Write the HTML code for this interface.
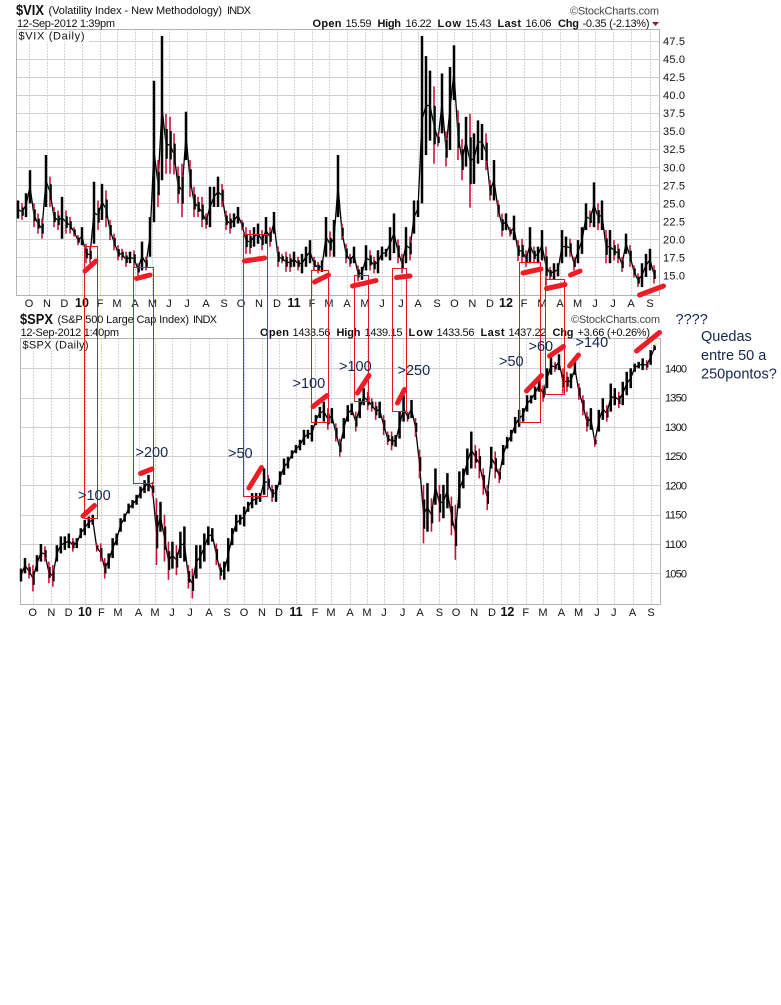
<!DOCTYPE html>
<html lang="en">
<head>
<meta charset="utf-8">
<title>VIX and SPX daily charts</title>
<style>
html,body{margin:0;padding:0;background:#fff;}
#stage{display:block;width:781px;height:1005px;}
text{font-family:"Liberation Sans",Arial,sans-serif;font-size:11px;fill:#111;}
.b{font-weight:bold;}
.note{font-size:14.5px;fill:#14264e;}
</style>
</head>
<body>
<svg id="stage" xmlns="http://www.w3.org/2000/svg" width="781" height="1005" viewBox="0 0 781 1005">
<rect x="0" y="0" width="781" height="1005" fill="#fff"/>

<g id="vix-plot"></g>
<g id="spx-plot"></g>

<g>
<text class="b" x="16" y="15" style="font-size:14.5px" textLength="28" lengthAdjust="spacingAndGlyphs">$VIX</text>
<text x="48.5" y="14" textLength="173.5">(Volatility Index - New Methodology)</text>
<text x="227" y="14" textLength="24">INDX</text>
<text x="17" y="27" textLength="98">12-Sep-2012 1:39pm</text>
<text class="b" x="312.5" y="27" textLength="29">Open</text>
<text x="345.5" y="27" textLength="26">15.59</text>
<text class="b" x="377.5" y="27" textLength="23.5">High</text>
<text x="405.5" y="27" textLength="26">16.22</text>
<text class="b" x="437.5" y="27" textLength="23.5">Low</text>
<text x="465.5" y="27" textLength="26">15.43</text>
<text class="b" x="497.5" y="27" textLength="23.5">Last</text>
<text x="525.5" y="27" textLength="26">16.06</text>
<text class="b" x="558" y="27" textLength="21">Chg</text>
<text x="582.5" y="27" textLength="67">-0.35 (-2.13%)</text>
<polygon points="652,22 659,22 655.5,26" fill="#8b1a3a"/>
<text x="570" y="14.5" style="fill:#444" textLength="89">©StockCharts.com</text>
</g>

<g>
<text class="b" x="20" y="324" style="font-size:14.5px" textLength="33" lengthAdjust="spacingAndGlyphs">$SPX</text>
<text x="57.5" y="323" textLength="131.5">(S&amp;P 500 Large Cap Index)</text>
<text x="193" y="323" textLength="24">INDX</text>
<text x="20.5" y="336" textLength="98.5">12-Sep-2012 1:40pm</text>
<text class="b" x="260" y="336" textLength="29">Open</text>
<text x="292.5" y="336" textLength="38">1433.56</text>
<text class="b" x="336.5" y="336" textLength="24">High</text>
<text x="364.5" y="336" textLength="38">1439.15</text>
<text class="b" x="408.5" y="336" textLength="24">Low</text>
<text x="436.5" y="336" textLength="38">1433.56</text>
<text class="b" x="480.5" y="336" textLength="24">Last</text>
<text x="508.5" y="336" textLength="38">1437.22</text>
<text class="b" x="552.5" y="336" textLength="21">Chg</text>
<text x="577.5" y="336" textLength="72.5">+3.66 (+0.26%)</text>
<text x="571" y="323" style="fill:#444" textLength="89">©StockCharts.com</text>
</g>

<g fill="none" stroke="#e3161c" stroke-width="1">
<rect x="84.5" y="246.5" width="13" height="272"/>
<rect x="133.5" y="267.5" width="20" height="216"/>
<rect x="243.5" y="234.5" width="24" height="262"/>
<rect x="311.5" y="270.5" width="17" height="152"/>
<rect x="354.5" y="275.5" width="14" height="126"/>
<rect x="392.5" y="268.5" width="14" height="143"/>
<rect x="519.5" y="262.5" width="21" height="160"/>
<rect x="545.5" y="279.5" width="19" height="115"/>
</g>

<g stroke="#ee1c25" stroke-width="5" stroke-linecap="round" fill="none">
<line x1="85" y1="271" x2="96" y2="261"/>
<line x1="136.5" y1="278.5" x2="150" y2="275"/>
<line x1="244.5" y1="261" x2="264.5" y2="258"/>
<line x1="314.5" y1="282" x2="328.5" y2="275"/>
<line x1="352.5" y1="286" x2="376" y2="280.5"/>
<line x1="396.5" y1="277.5" x2="410" y2="276"/>
<line x1="523" y1="273" x2="541" y2="269"/>
<line x1="546.5" y1="288.5" x2="565" y2="284.5"/>
<line x1="570.5" y1="275" x2="580" y2="271"/>
<line x1="639.5" y1="295" x2="663.5" y2="286"/>
<line x1="83" y1="516" x2="94.5" y2="505.5"/>
<line x1="140.5" y1="473.5" x2="152" y2="469"/>
<line x1="249" y1="488" x2="261.5" y2="467.5"/>
<line x1="313" y1="406.5" x2="327" y2="395.5"/>
<line x1="357.5" y1="393" x2="369" y2="375.5"/>
<line x1="397.5" y1="403" x2="404.5" y2="389.5"/>
<line x1="526.5" y1="391" x2="541.5" y2="375.5"/>
<line x1="549.5" y1="356" x2="563.5" y2="346.5"/>
<line x1="569.5" y1="366" x2="578.5" y2="355"/>
<line x1="636.5" y1="351" x2="659.5" y2="332.5"/>
</g>

<g>
<text class="note" x="78" y="500">&gt;100</text>
<text class="note" x="135.5" y="457">&gt;200</text>
<text class="note" x="228" y="458">&gt;50</text>
<text class="note" x="292.5" y="388">&gt;100</text>
<text class="note" x="339" y="371">&gt;100</text>
<text class="note" x="397.5" y="375">&gt;250</text>
<text class="note" x="499" y="366">&gt;50</text>
<text class="note" x="528.5" y="351">&gt;60</text>
<text class="note" x="575.5" y="347">&gt;140</text>
<text class="note" x="675.5" y="324">????</text>
<text class="note" x="701" y="341">Quedas</text>
<text class="note" x="701" y="360">entre 50 a</text>
<text class="note" x="701" y="378.5">250pontos?</text>
</g>
</svg>

<script>
const vixHigh = [25.4,25.0,26.4,29.6,25.0,23.6,22.9,31.7,28.7,24.5,24.0,25.9,24.0,23.1,21.7,20.6,21.7,19.4,19.0,28.0,25.4,27.7,26.8,22.7,20.8,19.2,18.7,18.3,18.3,18.5,16.7,19.7,17.6,23.1,42.0,31.0,48.2,37.4,37.0,34.7,30.1,30.5,37.7,31.0,27.3,25.9,25.9,23.6,27.3,27.3,28.7,27.7,24.0,23.6,23.6,24.5,22.7,21.7,21.3,21.7,22.2,21.3,23.1,21.7,23.8,19.0,18.0,18.3,18.0,18.3,17.6,18.0,19.0,19.9,17.6,16.9,17.1,23.1,21.1,22.7,31.7,22.2,19.4,18.0,19.0,16.4,16.2,19.2,18.5,17.6,18.5,19.0,18.7,21.7,23.6,20.0,18.0,21.7,20.4,25.4,25.4,48.2,45.4,43.4,41.2,34.7,43.0,35.0,43.9,46.9,37.9,33.9,37.0,37.4,34.7,36.5,36.0,34.7,28.2,31.0,25.4,23.6,23.6,21.7,23.3,19.9,20.1,18.5,21.7,19.0,19.0,21.3,19.0,16.2,16.7,16.7,21.3,20.4,20.1,17.6,19.9,21.7,25.0,24.0,27.9,25.0,25.4,21.3,21.3,19.9,19.4,17.6,20.8,19.2,16.4,15.3,16.7,18.0,18.7,16.4];
const vixLow = [22.9,22.7,23.1,25.0,21.7,20.8,20.1,24.5,24.5,21.7,21.3,20.1,20.8,20.8,20.4,19.2,19.2,16.7,16.7,19.4,21.3,22.7,21.7,19.9,18.5,17.1,17.1,16.2,16.7,16.2,15.0,15.7,15.7,17.6,22.4,24.5,28.2,29.1,29.1,29.0,25.0,23.1,31.0,25.9,23.1,23.1,21.7,21.5,21.7,24.5,24.5,24.5,21.3,20.8,21.7,22.2,21.3,18.0,18.0,19.0,19.4,18.5,19.4,19.0,20.8,16.2,16.7,15.5,15.5,16.2,15.7,15.3,16.2,16.7,15.7,15.3,15.5,17.6,17.6,17.6,23.1,19.9,16.7,16.2,16.7,14.2,14.4,15.7,15.7,15.3,15.3,17.1,17.6,17.1,18.1,16.7,15.3,16.7,17.1,20.8,23.1,25.0,31.7,33.7,30.5,32.9,34.7,30.1,32.4,39.3,31.0,28.2,30.1,24.4,27.7,30.5,31.0,29.6,25.4,25.4,23.1,20.4,21.3,20.4,19.9,17.0,16.7,16.2,16.7,16.7,16.7,17.1,13.6,14.4,14.4,14.9,16.7,17.6,17.6,15.7,16.7,18.0,21.3,21.7,21.7,21.3,21.3,16.7,16.7,17.1,16.7,15.5,18.0,16.2,14.7,13.4,13.4,14.8,15.7,13.9];

const spxHigh = [1058,1076,1067,1064,1081,1100,1096,1070,1064,1098,1113,1113,1118,1110,1110,1127,1141,1147,1150,1101,1101,1076,1084,1110,1118,1144,1152,1169,1175,1184,1198,1209,1218,1206,1178,1172,1150,1104,1104,1098,1121,1130,1064,1058,1098,1098,1118,1130,1127,1101,1067,1070,1110,1127,1150,1150,1164,1172,1187,1187,1187,1229,1218,1201,1201,1224,1246,1249,1260,1269,1278,1295,1295,1303,1320,1334,1343,1332,1332,1306,1280,1315,1337,1340,1326,1349,1366,1360,1349,1343,1343,1320,1292,1292,1286,1326,1354,1326,1346,1315,1261,1201,1204,1178,1229,1201,1201,1221,1181,1167,1224,1229,1263,1292,1269,1263,1229,1201,1266,1258,1229,1269,1283,1295,1317,1329,1332,1354,1354,1369,1381,1371,1400,1420,1411,1424,1400,1394,1391,1411,1374,1354,1326,1332,1283,1329,1349,1337,1374,1366,1360,1377,1394,1400,1408,1411,1417,1414,1431,1440];
const spxLow = [1036,1050,1041,1019,1053,1070,1070,1033,1027,1070,1084,1090,1093,1087,1093,1110,1115,1127,1133,1087,1070,1041,1058,1076,1098,1121,1138,1152,1161,1167,1178,1187,1190,1181,1064,1121,1070,1039,1058,1047,1076,1070,1024,1007,1041,1058,1070,1098,1104,1064,1039,1039,1053,1098,1121,1133,1130,1155,1161,1167,1172,1184,1192,1172,1172,1201,1218,1229,1246,1255,1260,1269,1280,1275,1303,1315,1309,1295,1306,1275,1249,1280,1309,1320,1292,1315,1337,1329,1326,1312,1315,1286,1269,1260,1266,1280,1309,1309,1315,1283,1212,1101,1121,1121,1167,1138,1144,1161,1115,1073,1161,1195,1218,1229,1229,1212,1184,1158,1229,1212,1204,1235,1263,1275,1289,1300,1309,1326,1340,1346,1360,1343,1366,1389,1394,1397,1357,1360,1366,1389,1346,1320,1292,1295,1266,1292,1312,1309,1326,1337,1332,1337,1354,1366,1394,1400,1397,1397,1406,1431];

const monthLabels = ["O","N","D","10","F","M","A","M","J","J","A","S","O","N","D","11","F","M","A","M","J","J","A","S","O","N","D","12","F","M","A","M","J","J","A","S"];
const yearLabels = ["10","11","12"];
const vixMonthStarts = [2.75,7.25,11.6,16,20.5,24.75,29.25,33.6,37.75,42.25,47,51.5,55.75,60.25,64.75,69,73.5,77.75,82.25,86.75,91,95.75,100,104.75,109.1,113.6,118,122,126.5,131,135.5,139.9,144.25,148.75,153.25,158];
const spxMonthStarts = [2.9,7.6,11.9,16,20.1,24.25,29.4,33.5,37.75,42.25,47,51.5,55.75,60.25,64.5,68.75,73.5,77.5,82.25,86.5,90.75,95.4,99.75,104.6,108.75,113.3,117.75,121.6,126.2,130.5,135.1,139.4,144,148.2,152.9,157.5];
const vixTicks = [15,17.5,20,22.5,25,27.5,30,32.5,35,37.5,40,42.5,45,47.5];
const spxTicks = [1050,1100,1150,1200,1250,1300,1350,1400];

const SVGNS = 'http://www.w3.org/2000/svg';
function make(tag, attrs, parent) {
  const n = document.createElementNS(SVGNS, tag);
  for (const k in attrs) n.setAttribute(k, attrs[k]);
  parent.appendChild(n);
  return n;
}

function drawPanel(cfg) {
  const root = document.getElementById(cfg.id);
  const box = cfg.box;
  const y = v => box.yRef + (cfg.refValue - v) * cfg.pxPerUnit;
  const x = u => cfg.x0 + cfg.step * u;
  const barX = i => cfg.x0 + cfg.barStep * i;

  cfg.ticks.forEach(t => {
    const line = make('line', {x1: box.l, x2: box.r, y1: Math.round(y(t)) + 0.5, y2: Math.round(y(t)) + 0.5, stroke: '#d0d0d0'}, root);
    
    
    const label = make('text', {x: cfg.labelX, y: y(t) + 4, textLength: 22}, root);
    
    
    label.textContent = cfg.format(t);
  });

  cfg.months.forEach((m, i) => {
    const gx = Math.round(x(m)) + 0.5;
    const line = make('line', {x1: gx, x2: gx, y1: box.t, y2: box.b, stroke: '#d2d2da', 'stroke-dasharray': '2 1'}, root);
    
    
    const isYear = yearLabels.includes(monthLabels[i]);
    const label = make('text', {x: x(m), y: box.b + 12, 'text-anchor': 'middle'}, root);
    
    
    if (isYear) label.setAttribute('class', 'b');
    if (isYear) label.style.fontSize = '12.5px';
    label.textContent = monthLabels[i];
  });

  const frame = make('rect', {x: box.l + 0.5, y: box.t + 0.5, width: box.r - box.l, height: box.b - box.t, fill: 'none', stroke: '#b4b4b4'}, root);
  
  

  const bg = make('rect', {x: box.l + 1, y: box.t + 1, width: 72, height: 12, fill: '#fff'}, root);
  
  
  const title = make('text', {x: box.l + 2.5, y: box.t + 10.5, textLength: 66}, root);
  
  
  title.textContent = cfg.title;

  const mids = cfg.high.map((h, i) => (h + cfg.low[i]) / 2);
  const trace = make('polyline', {
    points: mids.map((m, i) => barX(i) + ',' + y(m)).join(' '),
    fill: 'none', stroke: '#000', 'stroke-width': 1.3, 'stroke-linejoin': 'round'
  }, root);
  
  

  cfg.high.forEach((h, i) => {
    const l = cfg.low[i];
    const prev = i ? mids[i - 1] : mids[i];
    const down = mids[i] < prev;
    const bx = barX(i);
    const bar = make('line', {
      x1: bx, x2: bx, y1: y(h), y2: y(l),
      stroke: down ? '#c8143c' : '#000',
      'stroke-width': down ? 1.6 : 2.5
    }, root);
    
    
    if (down) {
      const span = h - l;
      const core = make('line', {
        x1: bx + 0.8, x2: bx + 0.8,
        y1: y(h - span * 0.25), y2: y(l + span * 0.25),
        stroke: '#000', 'stroke-width': 2
      }, root);
      
      
    }
  });

  if (cfg.lastMark) {
    const n = cfg.high.length - 1;
    const dot = make('circle', {cx: barX(n) + 1, cy: y(cfg.high[n]), r: 1.2, fill: '#f5e642'}, root);
    
    
  }
}

drawPanel({
  id: 'vix-plot', title: '$VIX (Daily)',
  box: {l: 16, r: 659, t: 29, b: 295, yRef: 275.5},
  refValue: 15, pxPerUnit: 7.215, x0: 18, step: 4, barStep: 4, labelX: 663,
  high: vixHigh, low: vixLow, months: vixMonthStarts, ticks: vixTicks,
  format: t => t.toFixed(1)
});
drawPanel({
  id: 'spx-plot', title: '$SPX (Daily)',
  box: {l: 20, r: 660, t: 338, b: 604, yRef: 368.3},
  refValue: 1400, pxPerUnit: 0.5857, x0: 21, step: 4, barStep: 3.985, labelX: 665,
  high: spxHigh, low: spxLow, months: spxMonthStarts, ticks: spxTicks,
  format: t => String(t), lastMark: true
});
</script>
</body>
</html>
